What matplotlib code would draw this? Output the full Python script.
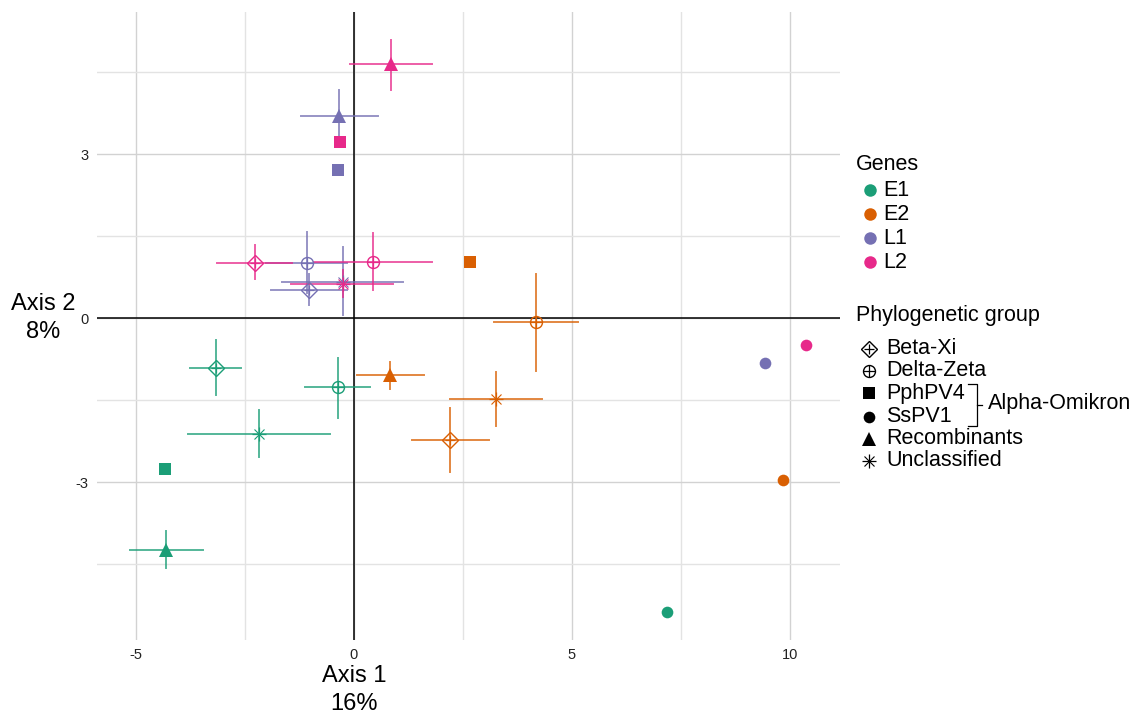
"""PCA-style scatter of genes by phylogenetic group, with error bars."""

import numpy as np
import matplotlib
matplotlib.use('Agg')
import matplotlib.pyplot as plt
from matplotlib import transforms

plt.rcParams['font.family'] = ['Liberation Sans', 'DejaVu Sans']
plt.rcParams['axes.unicode_minus'] = False

# Data
genes = ['E1', 'E2', 'L1', 'L2']
gene_colors = ['#1B9E77', '#D95F02', '#7570B3', '#E7298A']
groups = ['Beta-Xi', 'Delta-Zeta', 'PphPV4', 'SsPV1', 'Recombinants', 'Unclassified']

pt_gene = ['E1'] * 6 + ['E2'] * 6 + ['L1'] * 6 + ['L2'] * 6
pt_group = groups * 4
pt_x = [-3.17, -0.37, -4.33, 7.18, -4.30, -2.18,
        2.20, 4.17, 2.66, 9.85, 0.83, 3.26,
        -1.02, -1.08, -0.37, 9.43, -0.34, -0.25,
        -2.27, 0.43, -0.32, 10.37, 0.85, -0.26]
pt_y = [-0.91, -1.27, -2.76, -5.37, -4.24, -2.12,
        -2.23, -0.08, 1.03, -2.97, -1.05, -1.48,
        0.52, 1.00, 2.71, -0.82, 3.70, 0.66,
        1.00, 1.03, 3.22, -0.49, 4.65, 0.63]
pt_xlo = [-3.76, -1.12, np.nan, np.nan, -5.14, -3.80,
          1.33, 3.21, np.nan, np.nan, 0.06, 2.20,
          -1.91, -2.02, np.nan, np.nan, -1.22, -1.64,
          -3.14, -0.92, np.nan, np.nan, -0.09, -1.44]
pt_xhi = [-2.58, 0.37, np.nan, np.nan, -3.47, -0.55,
          3.09, 5.13, np.nan, np.nan, 1.61, 4.32,
          -0.16, -0.16, np.nan, np.nan, 0.55, 1.12,
          -1.42, 1.79, np.nan, np.nan, 1.79, 0.90]
pt_ylo = [-1.41, -1.82, np.nan, np.nan, -4.58, -2.54,
          -2.82, -0.96, np.nan, np.nan, -1.30, -1.97,
          0.24, 0.45, np.nan, np.nan, 3.20, 0.05,
          0.71, 0.51, np.nan, np.nan, 4.17, 0.39]
pt_yhi = [-0.40, -0.73, np.nan, np.nan, -3.90, -1.68,
          -1.64, 0.80, np.nan, np.nan, -0.81, -0.98,
          0.80, 1.57, np.nan, np.nan, 4.17, 1.30,
          1.34, 1.55, np.nan, np.nan, 5.08, 0.88]

# Marker style per group: (marker, size, filled, overlay)
group_style = {
    'Beta-Xi': ('D', 8.0, False, '+'),
    'Delta-Zeta': ('o', 8.6, False, '+'),
    'PphPV4': ('s', 8.4, True, None),
    'SsPV1': ('o', 8.4, True, None),
    'Recombinants': ('^', 9.6, True, None),
    'Unclassified': ('x', 7.0, False, '+'),
}

W, H = 1135, 714
fig = plt.figure(figsize=(W / 100, H / 100), dpi=100)
ax = fig.add_axes([96.7 / W, 1 - 640 / H, (840 - 96.7) / W, (640 - 12) / H])

ax.set_xlim(-5.90, 11.15)
ax.set_ylim(-5.89, 5.60)
for s in ax.spines.values():
    s.set_visible(False)
ax.set_xticks([-5, 0, 5, 10])
ax.set_yticks([-3, 0, 3])
ax.set_xticks([-2.5, 2.5, 7.5], minor=True)
ax.set_yticks([-4.5, -1.5, 1.5, 4.5], minor=True)
ax.tick_params(which='both', length=0, labelsize=10.5, labelcolor='#222222')
ax.tick_params(axis='x', pad=6)
ax.tick_params(axis='y', pad=6)
ax.grid(which='major', color='#D2D2D2', lw=1.0)
ax.grid(which='minor', color='#E3E3E3', lw=1.0)
ax.set_axisbelow(True)
ax.axhline(0, color='black', lw=1.1, zorder=1)
ax.axvline(0, color='black', lw=1.1, zorder=1)


def draw_marker(axis, x, y, style, c, scale=1.0):
    mk, ms, filled, over = style
    ms = ms * scale
    if filled:
        axis.plot(x, y, marker=mk, ms=ms, color=c, mec=c, mew=0, ls='none', zorder=3)
    else:
        mw = 0.8 if mk == 'x' else 1.0
        axis.plot(x, y, marker=mk, ms=ms, mfc='none', mec=c, mew=mw, ls='none', zorder=3)
    if over == '+':
        pm = ms * 1.35 if mk == 'x' else ms * 0.95
        axis.plot(x, y, marker='+', ms=pm, mec=c, mew=0.9, ls='none', zorder=3)


color_of = dict(zip(genes, gene_colors))
for i in range(len(pt_x)):
    c = color_of[pt_gene[i]]
    x, y = pt_x[i], pt_y[i]
    if not np.isnan(pt_xlo[i]):
        ax.plot([pt_xlo[i], pt_xhi[i]], [y, y], color=c, lw=1.4, alpha=0.75, zorder=2)
        ax.plot([x, x], [pt_ylo[i], pt_yhi[i]], color=c, lw=1.4, alpha=0.75, zorder=2)
    draw_marker(ax, x, y, group_style[pt_group[i]], c)

# Axis titles at the zero lines
tx = transforms.blended_transform_factory(ax.transData, fig.transFigure)
ax.text(0, 1 - 690 / H, 'Axis 1\n16%', transform=tx, ha='center', va='center',
        fontsize=17, linespacing=1.4)
ty = transforms.blended_transform_factory(fig.transFigure, ax.transData)
ax.text(43 / W, 0, 'Axis 2\n8%', transform=ty, ha='center', va='center',
        fontsize=17, linespacing=1.4)

# Legend, drawn in pixel coordinates
lg = fig.add_axes([0, 0, 1, 1])
lg.set_xlim(0, W)
lg.set_ylim(H, 0)
lg.axis('off')
lg.patch.set_alpha(0)

fs = 15.5
lg.text(856, 165, 'Genes', fontsize=fs, va='center', ha='left')
for k, (g, c) in enumerate(zip(genes, gene_colors)):
    yy = 190 + k * 24
    lg.plot(870, yy, marker='o', ms=9, color=c, mew=0)
    lg.text(883, yy, g, fontsize=fs, va='center', ha='left')

lg.text(856, 315, 'Phylogenetic group', fontsize=fs, va='center', ha='left')
leg_y = [349, 371, 393, 417, 439, 461]
for g, yy in zip(groups, leg_y):
    draw_marker(lg, 869, yy, group_style[g], 'black', scale=1.0)
    lg.text(886, yy, g, fontsize=fs, va='center', ha='left')

# Bracket for Alpha-Omikron
lg.plot([968, 977, 977, 968], [384, 384, 426, 426], color='black', lw=0.9)
lg.plot([977, 982], [405, 405], color='black', lw=0.9)
lg.text(988, 404, 'Alpha-Omikron', fontsize=fs, va='center', ha='left')

fig.savefig('out.png', dpi=100)
